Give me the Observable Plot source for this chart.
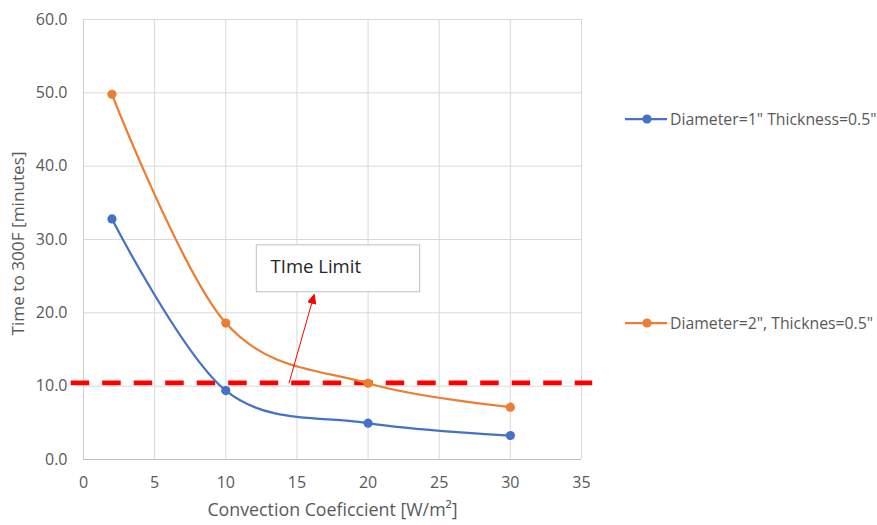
<!DOCTYPE html>
<html>
<head>
<meta charset="utf-8">
<script src="https://cdn.jsdelivr.net/npm/d3@7"></script>
<script src="https://cdn.jsdelivr.net/npm/@observablehq/plot@0.6"></script>
<style>
  html, body { margin: 0; padding: 0; background: #fff; }
  #wrap { position: relative; width: 877px; height: 525px; font-family: "Open Sans", sans-serif; overflow: hidden; }
  .leg { position: absolute; display: flex; align-items: center; font-size: 15.8px; color: #595959; white-space: nowrap; }
  .leg svg { display: block; margin-right: 1px; }
</style>
</head>
<body>
<div id="wrap"></div>
<script>
// Data
const xValues = [2, 10, 20, 30];
const seriesNames = ['Diameter=1" Thickness=0.5"', 'Diameter=2", Thicknes=0.5"'];
const seriesColors = ["#4472C4", "#ED7D31"];
const blueValues = [32.8, 9.4, 4.95, 3.27];
const orangeValues = [49.8, 18.6, 10.4, 7.13];
const xTicks = [0, 5, 10, 15, 20, 25, 30, 35];
const yTicks = [0, 10, 20, 30, 40, 50, 60];
const xTitle = "Convection Coeficcient [W/m²]";
const yTitle = "Time to 300F [minutes]";
const limitValue = 10.45;
const limitExtent = [-0.864, 35.79];
const noteText = "TIme Limit";
const noteBox = {x1: 12.18, x2: 23.66, y1: 22.8, y2: 29.2};
const noteTextPos = {x: 13.15, y: 26.3};
const arrowPath = {x1: 14.44, y1: 10.4, x2: 16.2, y2: 22.4};

const rows = [];
xValues.forEach((x, i) => rows.push({x, y: blueValues[i], s: seriesNames[0]}));
xValues.forEach((x, i) => rows.push({x, y: orangeValues[i], s: seriesNames[1]}));

const triMarker = (color, context) => {
  const m = d3.create("svg:marker")
    .attr("viewBox", "0 -5 10 10")
    .attr("refX", 9).attr("refY", 0)
    .attr("markerUnits", "userSpaceOnUse")
    .attr("markerWidth", 10).attr("markerHeight", 9)
    .attr("orient", "auto");
  m.append("path").attr("d", "M0,-4.5L10,0L0,4.5Z").attr("fill", color);
  return m.node();
};

const fontFam = "'Open Sans', sans-serif";
const chart = Plot.plot({
  width: 877,
  height: 525,
  marginLeft: 83,
  marginRight: 296,
  marginTop: 19,
  marginBottom: 66,
  style: {fontFamily: fontFam, background: "#fff", overflow: "visible"},
  x: {domain: [0, 35]},
  y: {domain: [0, 60]},
  color: {domain: seriesNames, range: seriesColors},
  marks: [
    Plot.gridX(xTicks, {stroke: "#d9d9d9", strokeOpacity: 1, strokeWidth: 1}),
    Plot.gridY(yTicks, {stroke: "#d9d9d9", strokeOpacity: 1, strokeWidth: 1}),
    Plot.ruleY([0], {stroke: "#bfbfbf", strokeWidth: 1}),
    Plot.ruleX([0], {stroke: "#d0d0d0", strokeWidth: 1}),
    Plot.axisX(xTicks, {tickSize: 0, tickPadding: 17, fontSize: 16, fill: "#595959", label: null}),
    Plot.axisY(yTicks, {tickSize: 0, tickPadding: 16, fontSize: 16, fill: "#595959", tickFormat: d => d.toFixed(1), label: null}),
    Plot.text([xTitle], {frameAnchor: "bottom", textAnchor: "middle", dy: 56, fontSize: 17.8, fill: "#595959"}),
    Plot.text([yTitle], {frameAnchor: "left", textAnchor: "middle", dx: -65, dy: 4, rotate: -90, fontSize: 17.2, fill: "#595959"}),
    Plot.ruleY([limitValue], {x1: limitExtent[0], x2: limitExtent[1], stroke: "#ff0000", strokeWidth: 4.6, strokeDasharray: "18.5,13", clip: false}),
    Plot.line(rows, {x: "x", y: "y", z: "s", stroke: "s", strokeWidth: 2.25, curve: d3.curveCardinal.tension(0)}),
    Plot.dot(rows, {x: "x", y: "y", fill: "s", r: 4.6}),
    Plot.rect([noteBox], {x1: "x1", x2: "x2", y1: "y1", y2: "y2", fill: "#fff", stroke: "#bfbfbf", strokeWidth: 1}),
    Plot.text([noteText], {x: noteTextPos.x, y: noteTextPos.y, textAnchor: "start", fontSize: 18.5, fill: "#262626"}),
    Plot.link([arrowPath], {x1: "x1", y1: "y1", x2: "x2", y2: "y2", stroke: "#ff0000", strokeWidth: 1, markerEnd: triMarker})
  ]
});

const wrap = document.getElementById("wrap");
wrap.appendChild(chart);

const legendY = [119, 323];
seriesNames.forEach((name, i) => {
  const div = document.createElement("div");
  div.className = "leg";
  div.style.left = "625px";
  div.style.top = (legendY[i] - 10) + "px";
  div.style.height = "20px";
  div.innerHTML = `<svg width="44" height="20"><line x1="0" y1="10" x2="42" y2="10" stroke="${seriesColors[i]}" stroke-width="2.25"/><circle cx="22" cy="10" r="4.6" fill="${seriesColors[i]}"/></svg><span>${name.replace(/"/g, "&quot;")}</span>`;
  wrap.appendChild(div);
});
</script>
</body>
</html>
